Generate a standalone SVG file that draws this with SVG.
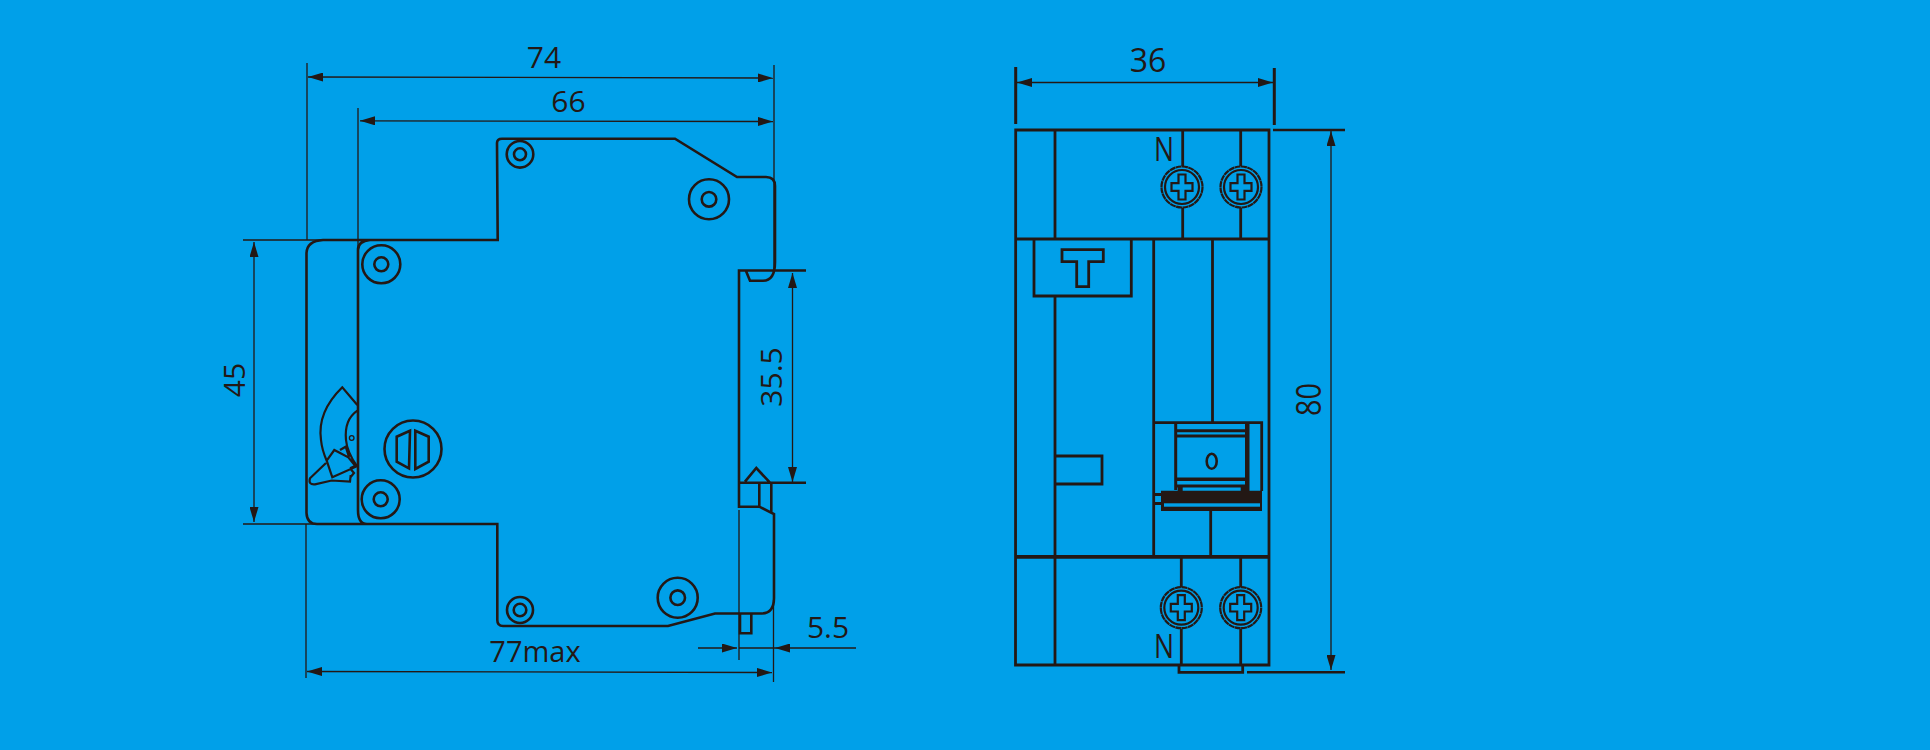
<svg xmlns="http://www.w3.org/2000/svg" width="1930" height="750" viewBox="0 0 1930 750">
<style>
.o{fill:none;stroke:#231815;stroke-width:2.6}
.m{fill:none;stroke:#231815;stroke-width:2.8}
.b{fill:none;stroke:#231815;stroke-width:3}
.d{fill:none;stroke:#231815;stroke-width:1.3}
.l{fill:none;stroke:#231815;stroke-width:2.2}
.f{fill:#231815}
text{font-family:"Open Sans","Noto Sans",sans-serif;font-size:30px;fill:#231815}
</style>
<defs>
<marker id="a" markerUnits="userSpaceOnUse" viewBox="0 0 15 9" refX="15" refY="4.5" markerWidth="15" markerHeight="9" orient="auto-start-reverse"><path d="M0 0L15 4.5L0 9Z" fill="#231815"/></marker>
<g id="screw"><circle r="20.5" class="l" stroke-dasharray="6 0.4"/><circle r="17" class="l"/><path class="l" d="M-3.5-12.5V-3.8H-10.5V3.8H-3.5V12.5H3.5V3.8H10.5V-3.8H3.5V-12.5Z"/></g>
</defs>
<rect width="1930" height="750" fill="#00a0e9"/>
<g id="connectors">
<path class="d" d="M307 63V240M774 65V270M358 108V250M243 240H323M243 524H317M306 524V678M773.5 600V682M739 510V660"/>
<path class="d" d="M308 77L773 78" marker-start="url(#a)" marker-end="url(#a)"/>
<path class="d" d="M360 120.8L773 121.5" marker-start="url(#a)" marker-end="url(#a)"/>
<path class="d" d="M254 242V522" marker-start="url(#a)" marker-end="url(#a)"/>
<path class="d" d="M792.5 273V482" marker-start="url(#a)" marker-end="url(#a)"/>
<path class="d" d="M307 671.5L772 672.5" marker-start="url(#a)" marker-end="url(#a)"/>
<path class="d" d="M698 648H737" marker-end="url(#a)"/>
<path class="d" d="M856 648H775" marker-end="url(#a)"/>
<path class="d" d="M739 648H775"/>
<path class="d" d="M1017 82.5H1273" marker-start="url(#a)" marker-end="url(#a)"/>
<path class="d" d="M1331 131V670" marker-start="url(#a)" marker-end="url(#a)"/>
<path class="b" d="M1015.7 67V124M1274.3 68V125"/>
<path class="o" d="M1273 130H1345M1247 672.3H1345"/>
</g>
<g id="side-view">
<path class="o" d="M306.5 513V253Q307 241 323 240H497.7L497 143Q497 138.7 502 138.7H675L737 177H766Q775 177 775 186V262Q775 280.7 763 280.7H750L746 271M358 250V510Q358 524 367 524M358 250Q358 241 370 240M306.5 513Q307 524 317 524H497.3V620Q497.3 626 503 626H668L715 613.5H762Q774 613 774 598V514L759.3 506.7H739V270.5H806M739 482.7H806M759.3 482.7V506.7M771.3 482.7V512.7M745 481.7L756.3 468L770 482.7"/>
<path class="o" d="M740 613.7V633.3H751.3V613.7"/>
<g class="o">
<circle cx="520" cy="154.3" r="13.3"/><circle cx="520" cy="154.3" r="6"/>
<circle cx="709" cy="199.3" r="20"/><circle cx="709" cy="199.3" r="7.3"/>
<circle cx="381.3" cy="264.3" r="19"/><circle cx="381.3" cy="264.3" r="7"/>
<circle cx="380.7" cy="499.3" r="19"/><circle cx="380.7" cy="499.3" r="7"/>
<circle cx="520" cy="610" r="13"/><circle cx="520" cy="610" r="6.3"/>
<circle cx="677.7" cy="597.7" r="20"/><circle cx="677.7" cy="597.7" r="7.3"/>
<circle cx="413" cy="449" r="28.5"/>
<path d="M410 430.7L396.7 436.7V461.7L409 468.3ZM415.3 430.7L428.7 436.7V461.7L415.3 469Z"/>
</g>
<path class="l" d="M357.3 405L342.3 387.3Q317 412 321 440Q322 450 326.7 460.7M357.3 410.7Q344 420 346 440Q347 452 357.3 466.7M326.7 460.7L334.3 450L348.3 457.3L356 466.7L332.3 477.3ZM340 450L345.7 446.7L349 457M350 468.3L355 466M350 468.3L354 473L350.7 477M326 463L310 478.3Q308 485 315 484.3L331.7 480.5L350 481.7L350.7 475"/>
<circle cx="351.7" cy="438" r="2.3" class="d"/>
</g>
<g id="front-view">
<path class="m" d="M1015.7 130H1269V665H1015.5ZM1016 239H1269M1055 130V239M1182.7 130V166M1182.7 208V239M1240.7 130V166M1240.7 208V239M1034 239H1131.3V296H1034ZM1062 249.7H1103.3V261.7H1088.7V286.7H1076.7V261.7H1062ZM1055 296V665M1153.7 239V556M1212.5 239V423M1153.5 422.7H1261.7V491M1210.7 511V556M1181.3 556V587M1181.3 629V665M1240.7 556V587M1240.7 629V665M1179 665V672.3H1242.7V665M1055 456H1102V484H1055M1153 494.5H1161M1153 503.5H1161"/>
<path class="b" d="M1175.7 423V490M1177 430.7H1246M1177 436H1246M1177 486H1246"/>
<path class="f" d="M1245 423h4.5v68h-4.5zM1177 477.5h69v3.6h-69zM1177.7 486h5v5h-5zM1240.7 486h5v5h-5zM1161 490.7h101v20.3h-101zM1015 555H1269v3.8H1015z"/>
<rect x="1164" y="503.3" width="96" height="3.4" fill="#00a0e9"/>
<ellipse cx="1211.7" cy="461.3" rx="5" ry="7.5" class="o"/>
<use href="#screw" x="1182" y="187"/><use href="#screw" x="1241" y="187"/>
<use href="#screw" x="1181.3" y="607.7"/><use href="#screw" x="1240.7" y="607.7"/>
</g>
<g id="labels">
<text x="544" y="68" text-anchor="middle">74</text>
<text x="568.5" y="112" text-anchor="middle">66</text>
<text x="535" y="662" text-anchor="middle" style="font-size:29px">77max</text>
<text x="828" y="638" text-anchor="middle">5.5</text>
<text x="1148" y="71.5" text-anchor="middle" style="font-size:32px">36</text>
<text transform="translate(245 380) rotate(-90)" text-anchor="middle">45</text>
<text transform="translate(782 377) rotate(-90)" text-anchor="middle">35.5</text>
<text transform="translate(1321 416) rotate(-90)" textLength="33" lengthAdjust="spacingAndGlyphs" style="font-size:34px">80</text>
<text x="1154" y="160.5" textLength="20" lengthAdjust="spacingAndGlyphs" style="font-size:32px">N</text>
<text x="1154" y="657.5" textLength="20" lengthAdjust="spacingAndGlyphs" style="font-size:32px">N</text>
</g>
</svg>
